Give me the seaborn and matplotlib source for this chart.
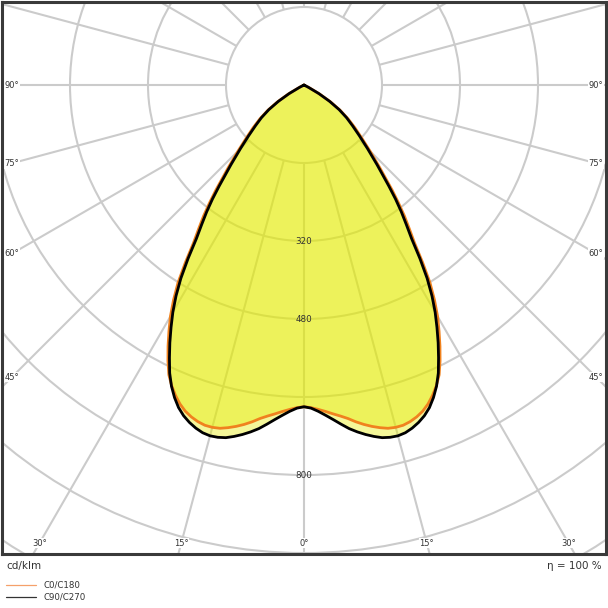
import numpy as np
import pandas as pd
import matplotlib
matplotlib.use("Agg")
import matplotlib.pyplot as plt
from matplotlib.patches import Circle
from matplotlib.lines import Line2D
import seaborn as sns

# ---------------- data (cd/klm) ----------------
gamma = [0, 1.25, 2.5, 3.75, 5, 6.25, 7.5, 8.75, 10, 11.25, 12.5, 13.75, 15, 16.25,
         17.5, 18.75, 20, 21.25, 22.5, 23.75, 25, 26.25, 27.5, 28.75, 30, 31.25,
         32.5, 33.75, 35, 36.25, 37.5, 38.75, 40, 42.5, 45, 47.5, 50, 52.5, 55,
         57.5, 60, 62.5, 65, 70, 80, 90]
c0_c180 = [660, 662, 666, 671, 677, 683, 690, 699, 707, 714, 720, 725, 727, 727,
           724, 719, 712, 702, 689, 674, 656, 631, 604, 576, 548, 516,
           481, 438, 395, 365, 338, 309, 281, 230, 191, 160, 136, 114, 91,
           65, 37, 11, 0, 0, 0, 0]
c90_c270 = [660, 663, 670, 679, 689, 700, 711, 720, 728, 735, 741, 744, 745, 743,
            738, 731, 722, 710, 694, 675, 652, 624, 596, 567, 538, 506,
            470, 428, 385, 355, 328, 300, 271, 222, 184, 154, 130, 110, 88,
            62, 35, 10, 0, 0, 0, 0]
ring_values = [160, 320, 480, 640, 800, 960, 1120]
ring_labels = [320, 480, 800]
side_angles = [90, 75, 60, 45]
bottom_angles = [30, 15, 0]
series_names = ["C0/C180", "C90/C270"]
eta_text = "η = 100 %"
unit_text = "cd/klm"

# ---------------- helpers ----------------
def closed_curve(vals):
    g = np.radians(np.array(gamma, dtype=float))
    v = np.array(vals, dtype=float)
    xl = -v[::-1] * np.sin(g[::-1])
    yl = -v[::-1] * np.cos(g[::-1])
    xr = v * np.sin(g)
    yr = -v * np.cos(g)
    return np.concatenate([xl, xr[1:]]), np.concatenate([yl, yr[1:]])

sns.set_theme(style="white")
plt.rcParams["font.family"] = ["DejaVu Sans"]

W = 608
fig = plt.figure(figsize=(6.08, 6.08), dpi=100)
ax = fig.add_axes([1.5 / W, 1 - 553.5 / W, 604.5 / W, 552 / W])
S = 160 / 78.0  # cd/klm per pixel
ax.set_xlim(-302.5 * S, 302 * S)
ax.set_ylim(-468.5 * S, 83.5 * S)

grid_col = "#cbcbcb"
for a in range(0, 360, 15):
    t = np.radians(a)
    ax.plot([160 * np.sin(t), 1500 * np.sin(t)], [-160 * np.cos(t), -1500 * np.cos(t)],
            color=grid_col, lw=1.5, zorder=1, solid_capstyle="butt")
for v in ring_values[1:]:
    ax.add_patch(Circle((0, 0), v, fill=False, ec=grid_col, lw=1.5, zorder=1))
ax.add_patch(Circle((0, 0), ring_values[0], fc="white", ec=grid_col, lw=1.5, zorder=2))

colors = ["#f0821e", "#000000"]
for name, vals, col in zip(series_names, [c0_c180, c90_c270], colors):
    x, y = closed_curve(vals)
    ax.fill(x, y, color="#e4ec00", alpha=0.40, lw=0, zorder=3)
    df = pd.DataFrame({"x": x, "y": y})
    sns.lineplot(data=df, x="x", y="y", sort=False, estimator=None, color=col,
                 lw=2.0, ax=ax, zorder=4, legend=False)

for v in ring_labels:
    ax.text(0, -v, str(v), ha="center", va="center", fontsize=6.3, color="#333333", zorder=5)

lab_kw = dict(fontsize=6, color="#333333", ha="center", va="center", zorder=6,
              bbox=dict(fc="white", ec="none", pad=0.6))
for a in side_angles:
    t = np.radians(a)
    dy = 292 * np.cos(t) / np.sin(t)
    ax.text(-292 * S, -dy * S, f"{a}°", **lab_kw)
    ax.text(292 * S, -dy * S, f"{a}°", **lab_kw)
for a in bottom_angles:
    dx = 458 * np.tan(np.radians(a))
    ax.text(-dx * S, -458 * S, f"{a}°", **lab_kw)
    if a != 0:
        ax.text(dx * S, -458 * S, f"{a}°", **lab_kw)

ax.set_xticks([])
ax.set_yticks([])
ax.set_xlabel("")
ax.set_ylabel("")
for sp in ax.spines.values():
    sp.set_visible(True)
    sp.set_color("#3a3a3a")
    sp.set_linewidth(2.2)
    sp.set_zorder(10)

fig.text(6 / W, 1 - 566 / W, unit_text, fontsize=7.5, color="#333333", va="center", ha="left")
fig.text(602 / W, 1 - 566 / W, eta_text, fontsize=7.5, color="#333333", va="center", ha="right")

leg_cols = ["#f5a06a", "#333333"]
for i, (name, col) in enumerate(zip(series_names, leg_cols)):
    yy = 1 - (585 + 12 * i) / W
    fig.add_artist(Line2D([6 / W, 36 / W], [yy, yy], transform=fig.transFigure, color=col, lw=0.9))
    fig.text(43 / W, yy, name, fontsize=6.2, color="#333333", va="center", ha="left")

fig.savefig("out.png", dpi=100)
